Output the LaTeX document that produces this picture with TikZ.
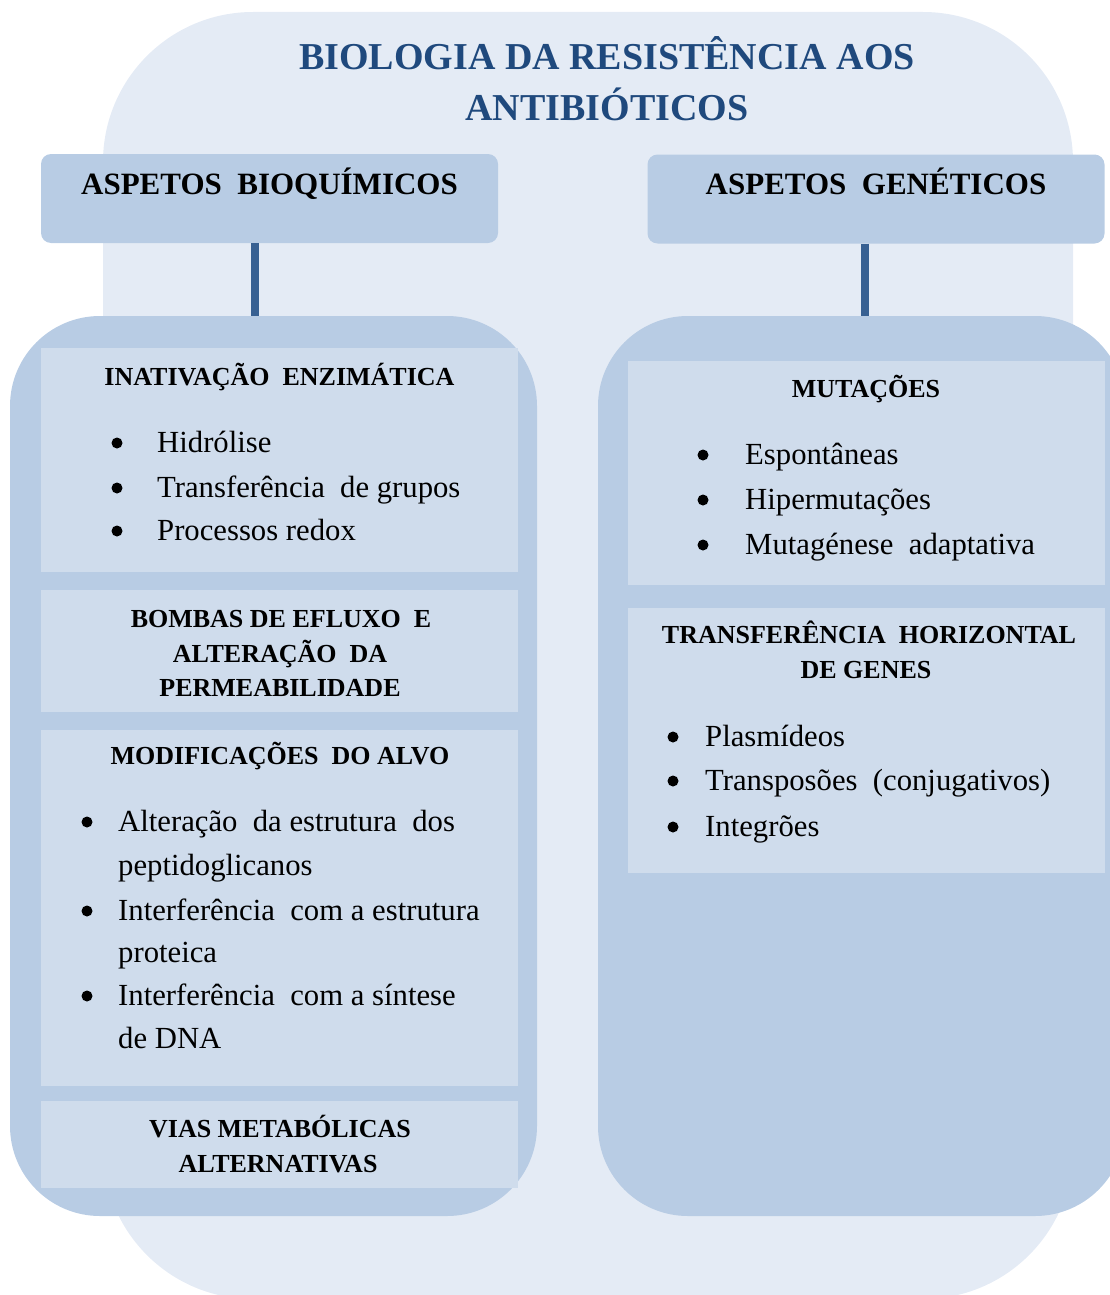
\documentclass[tikz,border=0pt]{standalone}
\usepackage{fontspec}
\setmainfont{Liberation Serif}
\usetikzlibrary{positioning}
\definecolor{bgc}{RGB}{228,235,245}
\definecolor{panelc}{RGB}{184,204,228}
\definecolor{cellc}{RGB}{207,220,236}
\definecolor{titlec}{RGB}{31,73,125}
\definecolor{linkc}{RGB}{55,96,146}
\tikzset{
  hdr/.style={fill=panelc,rounded corners=10pt,minimum width=457pt,minimum height=89pt,inner sep=0},
  panel/.style={fill=panelc,rounded corners=90pt,minimum width=527pt,minimum height=900pt,inner sep=0},
  cell/.style={fill=cellc,minimum width=477pt,inner sep=0},
  link/.style={draw=linkc,line width=8pt},
  ttl/.style={anchor=base,inner sep=0,text=titlec,font=\fontsize{38}{46}\selectfont\bfseries},
  htxt/.style={anchor=base,inner sep=0,font=\fontsize{31}{37}\selectfont\bfseries},
  head/.style={anchor=base,inner sep=0,font=\fontsize{26}{30}\selectfont\bfseries},
  item/.style={anchor=base west,inner sep=0,font=\fontsize{30.7}{36}\selectfont},
}
\begin{document}
\begin{tikzpicture}[x=1pt,y=-1pt]
\clip (0,0) rectangle (1110,1295);
% background
\fill[bgc,rounded corners=150pt] (103,12) rectangle (1073,1299);
\node[ttl] (t1) at (607,70) {BIOLOGIA DA RESISTÊNCIA AOS};
\node[ttl] (t2) at (607,121) {ANTIBIÓTICOS};
% the two columns
\node[hdr] (bq) at (269.5,198.5) {};
\node[hdr] (gn) at (876,199) {};
\node[htxt] (bqt) at ([yshift=-41pt]bq.north) {ASPETOS\enspace BIOQUÍMICOS};
\node[htxt] (gnt) at ([yshift=-40pt]gn.north) {ASPETOS\enspace GENÉTICOS};
\node[panel] (lp) at (273.5,766) {};
\node[panel] (rp) at (861.5,766) {};
\draw[link] ([xshift=-14.5pt]bq.south) -- ([xshift=-14.5pt]bq.south |- lp.north);
\draw[link] ([xshift=-11pt]gn.south) -- ([xshift=-11pt]gn.south |- rp.north);
% left cells
\node[cell,minimum height=224pt] (c1) at (279.5,460) {};
\node[cell,minimum height=122pt] (c2) at (279.5,651) {};
\node[cell,minimum height=356pt] (c3) at (279.5,908) {};
\node[cell,minimum height=87pt] (c4) at (279.5,1144.5) {};
\node[head] (h1) at (279.5,385) {INATIVAÇÃO\enspace ENZIMÁTICA};
\foreach \yy/\tx [count=\i] in {452/Hidrólise,497/Transferência\enspace de grupos,540/Processos redox}{
  \fill (117,\yy-9) circle (5.5pt);
  \node[item] (ie\i) at (157,\yy) {\tx};
}
\node[head] (h2a) at (281,627) {BOMBAS DE EFLUXO\enspace E};
\node[head] (h2b) at (280,662) {ALTERAÇÃO\enspace DA};
\node[head] (h2c) at (280,696) {PERMEABILIDADE};
\node[head] (h3) at (280,764) {MODIFICAÇÕES\enspace DO ALVO};
\foreach \yy/\b/\tx [count=\i] in {831/1/Alteração\enspace da estrutura\enspace dos,875/0/peptidoglicanos,
    920/1/Interferência\enspace com a estrutura,962/0/proteica,1005/1/Interferência\enspace com a síntese,1048/0/de DNA}{
  \ifnum\b=1 \fill (87,\yy-9) circle (5.5pt); \fi
  \node[item] (ma\i) at (118,\yy) {\tx};
}
\node[head] (h4a) at (280,1137) {VIAS METABÓLICAS};
\node[head] (h4b) at (278,1172) {ALTERNATIVAS};
% right cells
\node[cell,minimum height=224pt] (m) at (866.5,473) {};
\node[cell,minimum height=265pt] (th) at (866.5,740.5) {};
\node[head] (h5) at (866,397) {MUTAÇÕES};
\foreach \yy/\tx [count=\i] in {464/Espontâneas,509/Hipermutações,554/Mutagénese\enspace adaptativa}{
  \fill (703,\yy-9) circle (5.5pt);
  \node[item] (mu\i) at (745,\yy) {\tx};
}
\node[head] (h6a) at (869,643) {TRANSFERÊNCIA\enspace HORIZONTAL};
\node[head] (h6b) at (866,678) {DE GENES};
\foreach \yy/\tx [count=\i] in {746/Plasmídeos,790/Transposões\enspace(conjugativos),836/Integrões}{
  \fill (673,\yy-9) circle (5.5pt);
  \node[item] (tr\i) at (705,\yy) {\tx};
}
\end{tikzpicture}
\end{document}
